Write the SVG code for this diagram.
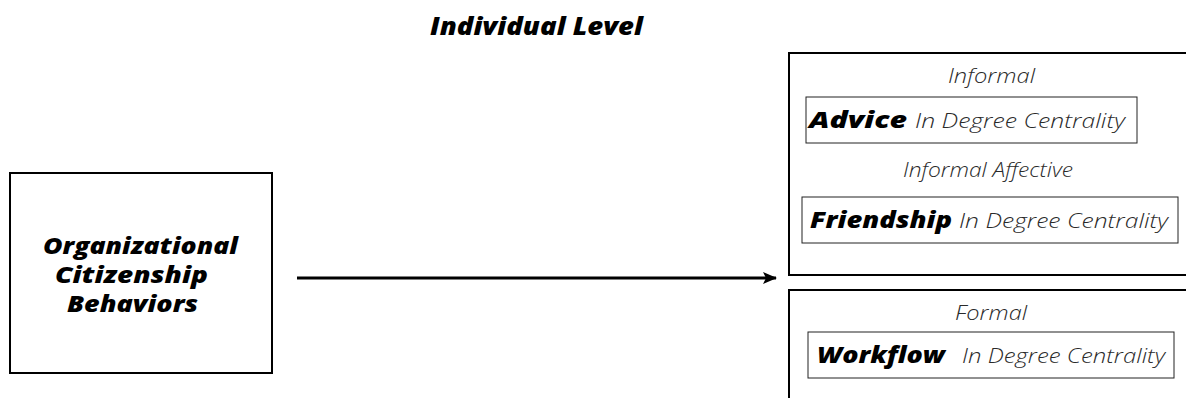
<svg xmlns="http://www.w3.org/2000/svg" width="1186" height="398" viewBox="0 0 1186 398">
<style>
.b{font-family:"Open Sans",Lato,sans-serif;font-style:italic;font-weight:800;fill:#000}
.l{font-family:"Open Sans",Lato,sans-serif;font-style:italic;font-weight:300;fill:#2a2a2a}
.outer{fill:#fff;stroke:#000;stroke-width:2}
.inner{fill:#fff;stroke:#222;stroke-width:1}
</style>
<defs>
<marker id="ah" markerWidth="14" markerHeight="12" refX="13" refY="6" orient="auto" markerUnits="userSpaceOnUse">
<path d="M0,0 L14,6 L0,12 L3,6 Z" fill="#000"/>
</marker>
</defs>
<text class="b" x="430" y="35" font-size="24" textLength="213" lengthAdjust="spacingAndGlyphs">Individual Level</text>
<g id="ocb">
<rect class="outer" x="10" y="173" width="262" height="200"/>
<text class="b" x="43" y="254" font-size="23" textLength="195" lengthAdjust="spacingAndGlyphs">Organizational</text>
<text class="b" x="55" y="283" font-size="23" textLength="153" lengthAdjust="spacingAndGlyphs">Citizenship</text>
<text class="b" x="67" y="312" font-size="23" textLength="131" lengthAdjust="spacingAndGlyphs">Behaviors</text>
</g>
<g id="informal">
<rect class="outer" x="789" y="53" width="410" height="222"/>
<text class="l" x="948" y="83" font-size="20" textLength="87" lengthAdjust="spacingAndGlyphs">Informal</text>
<rect class="inner" x="806" y="97" width="331" height="46"/>
<text class="b" x="809" y="128" font-size="22" textLength="98" lengthAdjust="spacingAndGlyphs">Advice</text>
<text class="l" x="915" y="128" font-size="20.5" textLength="210" lengthAdjust="spacingAndGlyphs">In Degree Centrality</text>
<text class="l" x="903" y="177" font-size="20" textLength="170" lengthAdjust="spacingAndGlyphs">Informal Affective</text>
<rect class="inner" x="802" y="197" width="376" height="46"/>
<text class="b" x="810" y="228" font-size="22" textLength="142" lengthAdjust="spacingAndGlyphs">Friendship</text>
<text class="l" x="959" y="228" font-size="20.5" textLength="209" lengthAdjust="spacingAndGlyphs">In Degree Centrality</text>
</g>
<g id="formal">
<rect class="outer" x="789" y="290" width="410" height="130"/>
<text class="l" x="955" y="320" font-size="20" textLength="72" lengthAdjust="spacingAndGlyphs">Formal</text>
<rect class="inner" x="808" y="332" width="366" height="46"/>
<text class="b" x="817" y="363" font-size="22" textLength="128" lengthAdjust="spacingAndGlyphs">Workflow</text>
<text class="l" x="962" y="363" font-size="20.5" textLength="203" lengthAdjust="spacingAndGlyphs">In Degree Centrality</text>
</g>
<g id="connectors">
<line x1="297" y1="278" x2="776" y2="278" stroke="#000" stroke-width="3" marker-end="url(#ah)"/>
</g>
</svg>
